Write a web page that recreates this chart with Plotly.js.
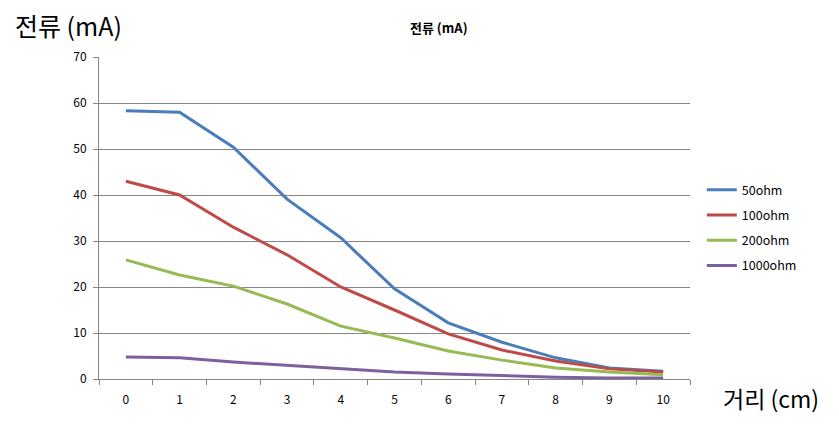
<!DOCTYPE html>
<html>
<head>
<meta charset="utf-8">
<script src="https://cdn.plot.ly/plotly-3.0.1.min.js"></script>
<style>html,body{margin:0;padding:0;background:#fff;}#chart{width:839px;height:425px;}</style>
</head>
<body>
<div id="chart"></div>
<script>
const distances = ["0","1","2","3","4","5","6","7","8","9","10"];
const seriesNames = ["50ohm","100ohm","200ohm","1000ohm"];
const ohm50 = [58.3, 58.0, 50.4, 39.1, 30.7, 19.6, 12.2, 8.0, 4.6, 2.4, 1.7];
const ohm100 = [43.0, 40.0, 33.0, 27.0, 20.0, 15.0, 9.8, 6.3, 3.9, 2.2, 1.5];
const ohm200 = [25.9, 22.6, 20.2, 16.3, 11.5, 8.9, 6.1, 4.1, 2.4, 1.5, 0.9];
const ohm1000 = [4.8, 4.6, 3.7, 3.0, 2.2, 1.5, 1.1, 0.7, 0.4, 0.2, 0.2];
const yTicks = [0,10,20,30,40,50,60,70];

const colors = ["#4A7EBB","#BE4B48","#98B954","#7D60A0"];
const allSeries = [ohm50, ohm100, ohm200, ohm1000];
const font = "'Noto Sans CJK KR', 'DejaVu Sans', sans-serif";

const traces = allSeries.map((vals, i) => ({
  x: distances, y: vals, type: "scatter", mode: "lines",
  name: seriesNames[i], legendgroup: "g" + i,
  line: {color: colors[i], width: 3}
}));

const layout = {
  width: 839, height: 425,
  margin: {l: 99, r: 149, t: 57, b: 46},
  paper_bgcolor: "#fff", plot_bgcolor: "#fff",
  font: {family: font, size: 11, color: "#000"},
  title: {text: "<b>전류 (mA)</b>", font: {size: 13, family: font}, x: 0.523, xanchor: "center", y: 0.932, yanchor: "middle"},
  showlegend: true,
  legend: {x: 1.02, xanchor: "left", y: 0.47, yanchor: "middle", font: {size: 12.5, family: font},
           tracegroupgap: 6, traceorder: "grouped", bgcolor: "rgba(0,0,0,0)"},
  xaxis: {type: "category", range: [-0.5, 10.5], tickson: "boundaries", ticks: "outside", ticklen: 5,
          tickcolor: "#868686", showline: true, linecolor: "#868686", linewidth: 1, showgrid: false,
          zeroline: false, tickfont: {size: 12}, ticklabelstandoff: 10},
  yaxis: {range: [0, 70], tickvals: yTicks, ticks: "outside", ticklen: 5, tickcolor: "#868686",
          showline: true, linecolor: "#868686", linewidth: 1, showgrid: true, gridcolor: "#868686",
          gridwidth: 1, zeroline: false, tickfont: {size: 12}, ticklabelstandoff: 4},
  annotations: [
    {text: "전류 (mA)", xref: "paper", yref: "paper", x: -0.145, y: 1.10, xanchor: "left", yanchor: "middle",
     showarrow: false, font: {size: 25, family: font}},
    {text: "거리 (cm)", xref: "paper", yref: "paper", x: 1.052, y: -0.06, xanchor: "left", yanchor: "middle",
     showarrow: false, font: {size: 23, family: font}}
  ]
};

Plotly.newPlot("chart", traces, layout, {displayModeBar: false});
</script>
</body>
</html>
